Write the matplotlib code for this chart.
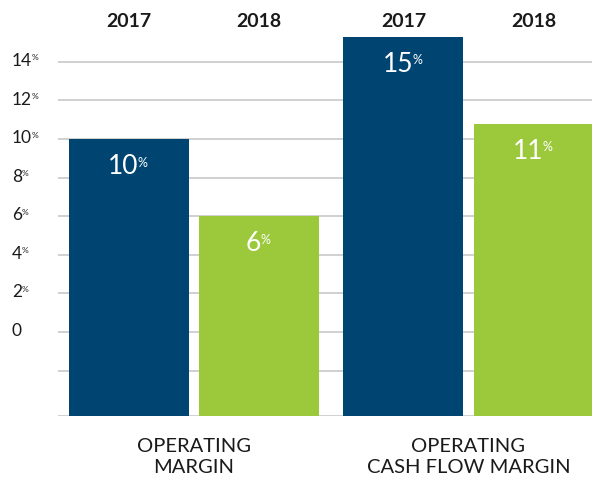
import matplotlib.pyplot as plt
import numpy as np
from matplotlib import transforms

plt.rcParams['font.family'] = ['Lato', 'DejaVu Sans']

categories = ["OPERATING\nMARGIN", "OPERATING\nCASH FLOW MARGIN"]
years = ["2017", "2018"]
vals_2017 = [10.0, 15.3]
vals_2018 = [6.0, 10.8]
labels_2017 = ["10", "15"]
labels_2018 = ["6", "11"]
yticks = [0, 2, 4, 6, 8, 10, 12, 14]
ytick_labels = ["0", "2", "4", "6", "8", "10", "12", "14"]

blue = "#004572"
green = "#9cc83b"
grid_c = "#c4c4c4"
txt_c = "#1a1a1a"

fig = plt.figure(figsize=(5.92, 4.81), dpi=100)
ax = fig.add_axes([58/592, 64/481, 1 - 58/592, 417/481])

ymin, ymax = -4.355, 17.26
ax.set_ylim(ymin, ymax)
ax.set_xlim(-0.495, 1.45)

x = np.arange(len(categories))
w = 0.437
off = 0.237

# grid lines behind bars
for g in [-2] + yticks:
    ax.axhline(g, color=grid_c, lw=1.1, zorder=0)
ax.axhline(ymin, color=grid_c, lw=1.8, zorder=0)

b1 = ax.bar(x - off, np.array(vals_2017) - ymin, w, bottom=ymin, color=blue, zorder=2)
b2 = ax.bar(x + off, np.array(vals_2018) - ymin, w, bottom=ymin, color=green, zorder=2)

for bars, vals, labs in [(b1, vals_2017, labels_2017), (b2, vals_2018, labels_2018)]:
    for rect, v, lab in zip(bars, vals, labs):
        cx = rect.get_x() + rect.get_width() / 2
        t = ax.annotate(lab, xy=(cx, v), xytext=(-4, -10), textcoords='offset points',
                        ha='center', va='top', color='white', fontsize=19, zorder=3)
        ax.annotate('%', xy=(1, 1), xycoords=t, xytext=(-0.5, -2), textcoords='offset points',
                    ha='left', va='top', color='white', fontsize=9, zorder=3)

# year labels above bars
for i in range(len(categories)):
    ax.text(x[i] - off, 16.17, years[0], ha='center', va='center', fontsize=14,
            fontweight='bold', color=txt_c)
    ax.text(x[i] + off, 16.17, years[1], ha='center', va='center', fontsize=14,
            fontweight='bold', color=txt_c)

# y tick labels with small superscript %
trans = transforms.blended_transform_factory(fig.transFigure, ax.transData)
for yv, lab in zip(yticks, ytick_labels):
    t = ax.text(12/592, yv + 0.1, lab, transform=trans, ha='left', va='center',
                fontsize=12.5, color=txt_c)
    if yv != 0:
        ax.annotate('%', xy=(1, 1), xycoords=t, xytext=(-0.5, -1), textcoords='offset points',
                    ha='left', va='top', fontsize=6, color=txt_c)

# category labels
trans2 = transforms.blended_transform_factory(ax.transData, ax.transAxes)
for xi, cat in zip(x, categories):
    ax.text(xi, -0.096, cat, transform=trans2, ha='center', va='center',
            fontsize=14.5, linespacing=1.25, color=txt_c)

ax.set_xticks([])
ax.set_yticks([])
for s in ax.spines.values():
    s.set_visible(False)

fig.savefig("out.png", dpi=100)
